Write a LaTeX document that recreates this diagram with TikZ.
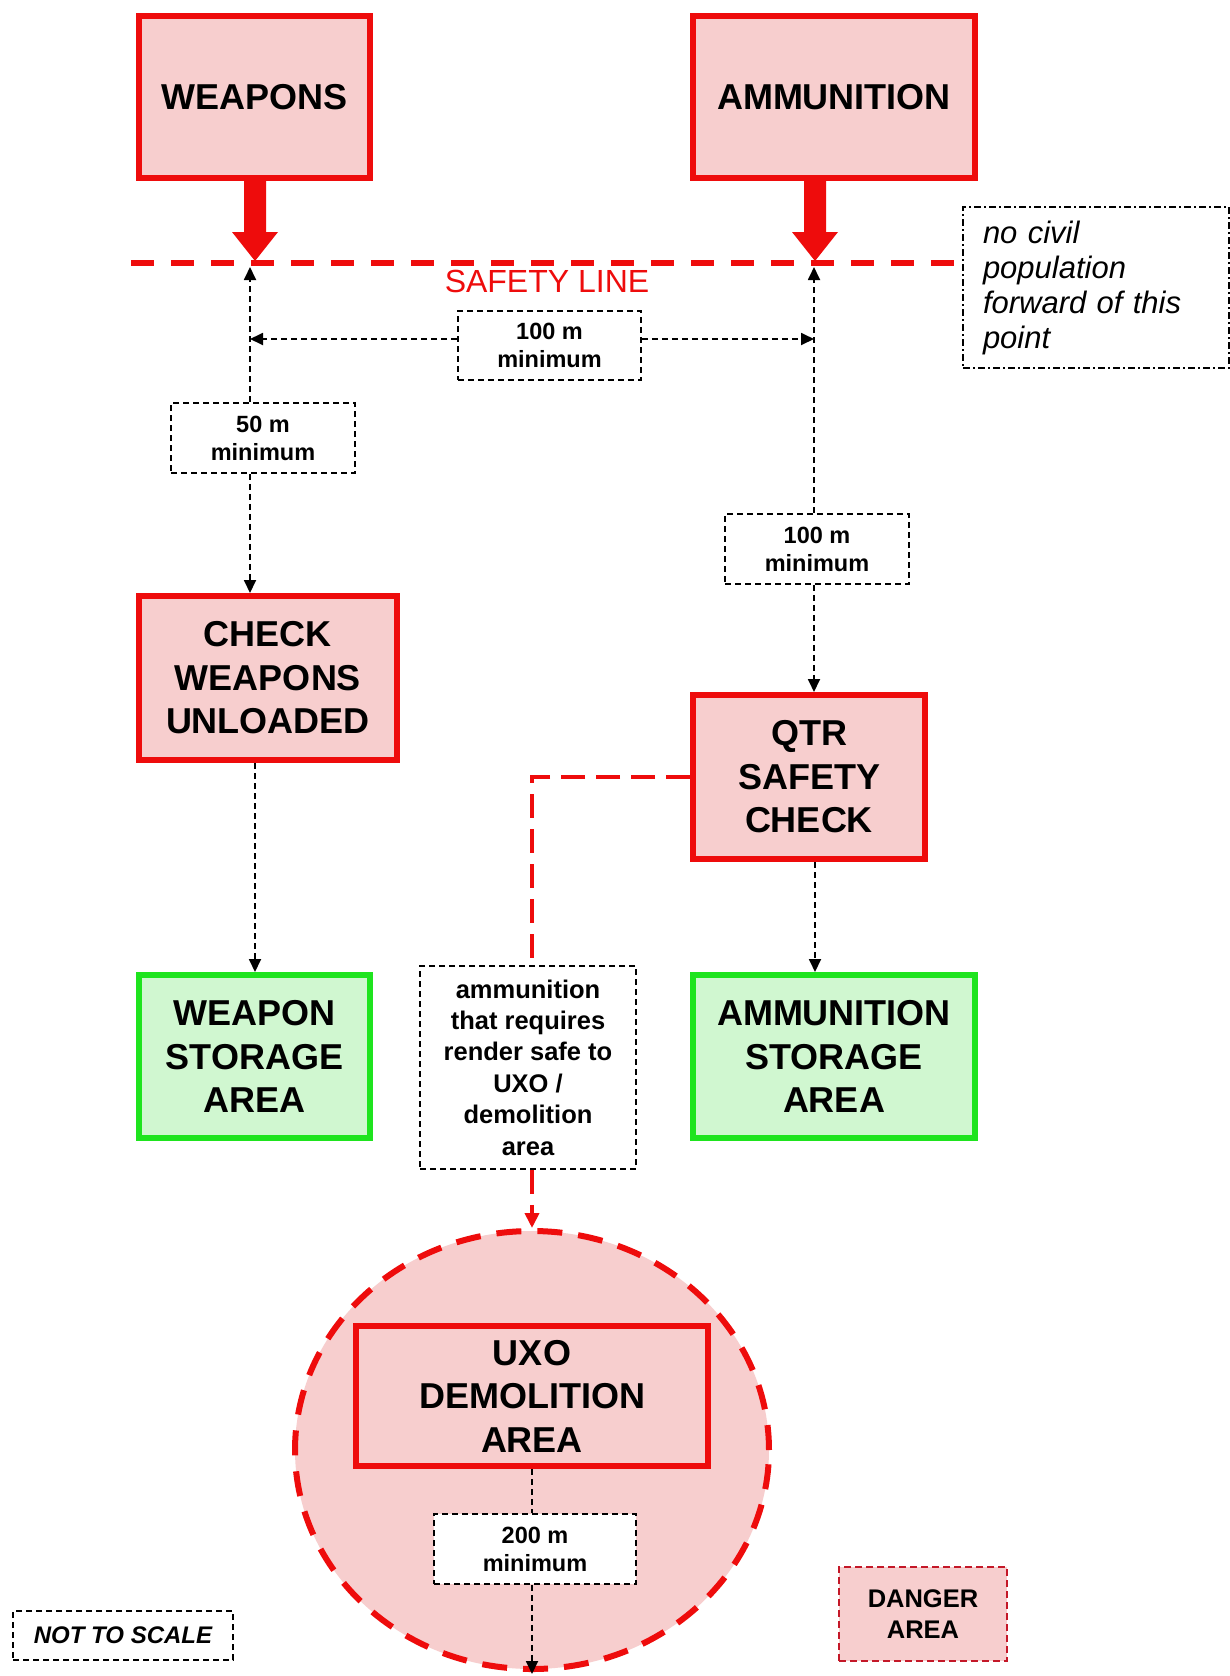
\documentclass[tikz,border=0pt]{standalone}
\usepackage{fontspec}
\setmainfont{Liberation Sans}
\usetikzlibrary{arrows.meta,shapes.geometric,calc}
\definecolor{boxred}{RGB}{238,12,12}
\definecolor{pinkfill}{RGB}{247,206,206}
\definecolor{greenline}{RGB}{30,228,30}
\definecolor{greenfill}{RGB}{208,247,208}
\definecolor{dangerline}{RGB}{196,24,40}
\begin{document}
\begin{tikzpicture}[x=1pt,y=-1pt,
  redbox/.style={draw=boxred, line width=6pt, fill=pinkfill, align=center, inner sep=0pt,
    font=\fontsize{36}{43.5}\selectfont\bfseries},
  greenbox/.style={redbox, draw=greenline, fill=greenfill},
  dimbox/.style={draw=black, line width=1.8pt, dash pattern=on 6pt off 4pt, fill=white,
    align=center, inner sep=0pt, font=\fontsize{23.5}{28}\selectfont\bfseries},
  blkline/.style={draw=black, line width=1.8pt, dash pattern=on 6pt off 4pt},
  blktip/.style={-{Triangle[length=13pt,width=12pt]}},
  reddash/.style={draw=boxred, line width=4pt, dash pattern=on 24pt off 11pt},
  redtip/.style={-{Triangle[length=15pt,width=14pt]}},
  fatarrow/.style={fill=boxred},
]
\useasboundingbox (0,0) rectangle (1230,1676);
\fill[white] (0,0) rectangle (1230,1676);

% danger ellipse
\node[ellipse, draw=boxred, fill=pinkfill, line width=6pt, dash pattern=on 25pt off 16pt,
  minimum width=474pt, minimum height=438pt, inner sep=0pt] (danger) at (532,1450) {};

% main boxes
\node[redbox, minimum width=231pt, minimum height=162pt] (weapons) at (254.5,97) {WEAPONS};
\node[redbox, minimum width=282pt, minimum height=162pt] (ammo) at (834,97) {AMMUNITION};
\node[redbox, minimum width=258pt, minimum height=164pt] (check) at (268,678) {CHECK\\WEAPONS\\UNLOADED};
\node[redbox, minimum width=232pt, minimum height=164pt] (qtr) at (809,777) {QTR\\SAFETY\\CHECK};
\node[greenbox, minimum width=231pt, minimum height=163pt] (wstore) at (254.5,1056.5) {WEAPON\\STORAGE\\AREA};
\node[greenbox, minimum width=282pt, minimum height=163pt] (astore) at (834,1056.5) {AMMUNITION\\STORAGE\\AREA};
\node[redbox, minimum width=352pt, minimum height=140pt] (uxo) at (532,1396) {UXO\\DEMOLITION\\AREA};

% note box
\node[draw=black, line width=1.8pt, dash pattern=on 7pt off 3pt on 2pt off 3pt, fill=white,
  text width=226pt, inner xsep=20pt, inner ysep=0pt, minimum height=161pt, align=left,
  font=\fontsize{31}{35}\selectfont\itshape] (note) at (1096,287.5)
  {no civil\\population\\forward of this\\point};

% safety line
\coordinate (sl0) at (131,263);
\draw[boxred, line width=6pt, dash pattern=on 23pt off 17pt] (sl0) -- (note.west |- sl0);
\node[text=boxred, inner sep=0pt, font=\fontsize{32}{36}\selectfont] (sltext) at (547,281) {SAFETY LINE};

% fat arrows
\coordinate (wtip) at (255,261);
\coordinate (atip) at (815,261);
\coordinate (wbase) at (weapons.south -| wtip);
\coordinate (abase) at (ammo.south -| atip);
\fill[fatarrow] ($(wbase)+(-11,-4)$) -- ($(wtip)+(-11,-29)$) -- ($(wtip)+(-23,-29)$) -- (wtip)
  -- ($(wtip)+(23,-29)$) -- ($(wtip)+(11,-29)$) -- ($(wbase)+(11,-4)$) -- cycle;
\fill[fatarrow] ($(abase)+(-11,-4)$) -- ($(atip)+(-11,-29)$) -- ($(atip)+(-23,-29)$) -- (atip)
  -- ($(atip)+(23,-29)$) -- ($(atip)+(11,-29)$) -- ($(abase)+(11,-4)$) -- cycle;

% dimension boxes
\node[dimbox, minimum width=183pt, minimum height=69pt] (m100a) at (549.5,345.5) {100 m\\minimum};
\node[dimbox, minimum width=184pt, minimum height=70pt] (m50) at (263,438) {50 m\\minimum};
\node[dimbox, minimum width=184pt, minimum height=70pt] (m100b) at (817,549) {100 m\\minimum};
\node[dimbox, minimum width=202pt, minimum height=70pt] (m200) at (535,1549) {200 m\\minimum};
\node[dimbox, minimum width=216pt, minimum height=203pt, font=\fontsize{25.5}{31.4}\selectfont\bfseries]
  (ammonote) at (528,1067.5) {ammunition\\that requires\\render safe to\\UXO /\\demolition\\area};

% legends
\node[dimbox, minimum width=220pt, minimum height=49pt, font=\fontsize{24}{28}\selectfont\bfseries\itshape]
  (notscale) at (123,1635.5) {NOT TO SCALE};
\node[draw=dangerline, line width=2.5pt, dash pattern=on 7pt off 4pt, fill=pinkfill, align=center,
  inner sep=0pt, minimum width=168pt, minimum height=94pt, font=\fontsize{25.5}{31}\selectfont\bfseries]
  (dlegend) at (923,1614) {DANGER\\AREA};

% black dashed connectors
\coordinate (lv) at (250,267);
\coordinate (rv) at (814,267);
\coordinate (hy) at (0,339);
\coordinate (cx) at (255,0);
\coordinate (qx) at (815,0);
\draw[blkline, blktip] (m50.north -| lv) -- (lv);
\draw[blkline, blktip] (m50.south -| lv) -- (check.north -| lv);
\draw[blkline, blktip] (m100b.north -| rv) -- (rv);
\draw[blkline, blktip] (m100b.south -| rv) -- (qtr.north -| rv);
\draw[blkline, blktip] (m100a.west |- hy) -- (lv |- hy);
\draw[blkline, blktip] (m100a.east |- hy) -- (rv |- hy);
\draw[blkline, blktip] (check.south -| cx) -- (wstore.north -| cx);
\draw[blkline, blktip] (qtr.south -| qx) -- (astore.north -| qx);

% red dashed route to demolition
\coordinate (bend) at (532,777);
\draw[reddash] (qtr.west) -- (bend) -- (bend |- ammonote.north);
\draw[reddash, redtip] (ammonote.south -| bend) -- (danger.north);

% demolition distance
\coordinate (bot) at (532,1674);
\draw[blkline] (uxo.south -| bend) -- (m200.north -| bend);
\draw[blkline, blktip] (m200.south -| bend) -- (bot);
\end{tikzpicture}
\end{document}
